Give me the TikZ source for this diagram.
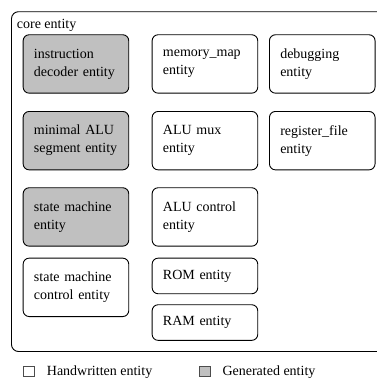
\documentclass[tikz,border=0pt]{standalone}
\usepackage{fontspec}
\setmainfont{Liberation Serif}
\definecolor{genfill}{RGB}{192,192,192}
\newcommand{\entfont}{\fontsize{14}{18}\selectfont\hyphenpenalty=10000}

\begin{document}
\begin{tikzpicture}[x=1pt,y=-1pt,
    entity/.style ={draw, line width=0.9pt, rounded corners=6pt, anchor=north west,
      minimum width=105.6pt, minimum height=58.4pt, text width=84pt,
      inner xsep=10.8pt, inner ysep=0pt, align=left, font=\entfont},
    generated/.style ={entity, fill=genfill},
    small/.style ={entity, minimum height=35.6pt},
    legendbox/.style ={draw=black!70, line width=0.8pt, minimum width=11pt,
      minimum height=10pt, inner sep=0pt, anchor=north west},
    legendtext/.style ={anchor=base west, inner sep=0pt, font=\entfont}]
   \useasboundingbox (0,0) rectangle (377,378);
   \clip (0,0) rectangle (377,378);
   % core
   \draw[line width=0.9pt, rounded corners=7pt] (11.5,11.7) rectangle (400,351.5);
   \node[legendtext] (corelabel) at (16.7,28.3) {core entity};
   % first column
   \node[generated] (decoder)  at (22.7,34.3)  {instruction\\decoder~entity};
   \node[generated] (alu)      at (22.7,111)   {minimal~ALU\\segment~entity};
   \node[generated] (fsm)      at (22.7,187.3) {state machine\\entity};
   \node[entity]    (fsmctrl)  at (22.7,257.7) {state machine\\control~entity};
   % second column
   \node[entity] (memmap)  at (151.7,34.3)  {memory\_map\\entity};
   \node[entity] (alumux)  at (151.7,111)   {ALU mux\\entity};
   \node[entity] (aluctrl) at (151.7,187.3) {ALU control\\entity};
   \node[small]  (rom)     at (151.7,257.7) {ROM entity};
   \node[small]  (ram)     at (151.7,304.3) {RAM entity};
   % third column
   \node[entity] (debug)   at (269,34.3) {debugging\\entity};
   \node[entity] (regfile) at (269,111)  {register\_file\\entity};
   % legend
   \node[legendbox] (hwbox) at (23,366) {};
   \node[legendtext] (hwtext) at (46.7,375) {Handwritten entity};
   \node[legendbox, fill=genfill] (genbox) at (198.5,366) {};
   \node[legendtext] (gentext) at (222.3,375) {Generated entity};
 \end{tikzpicture}
\end{document}
